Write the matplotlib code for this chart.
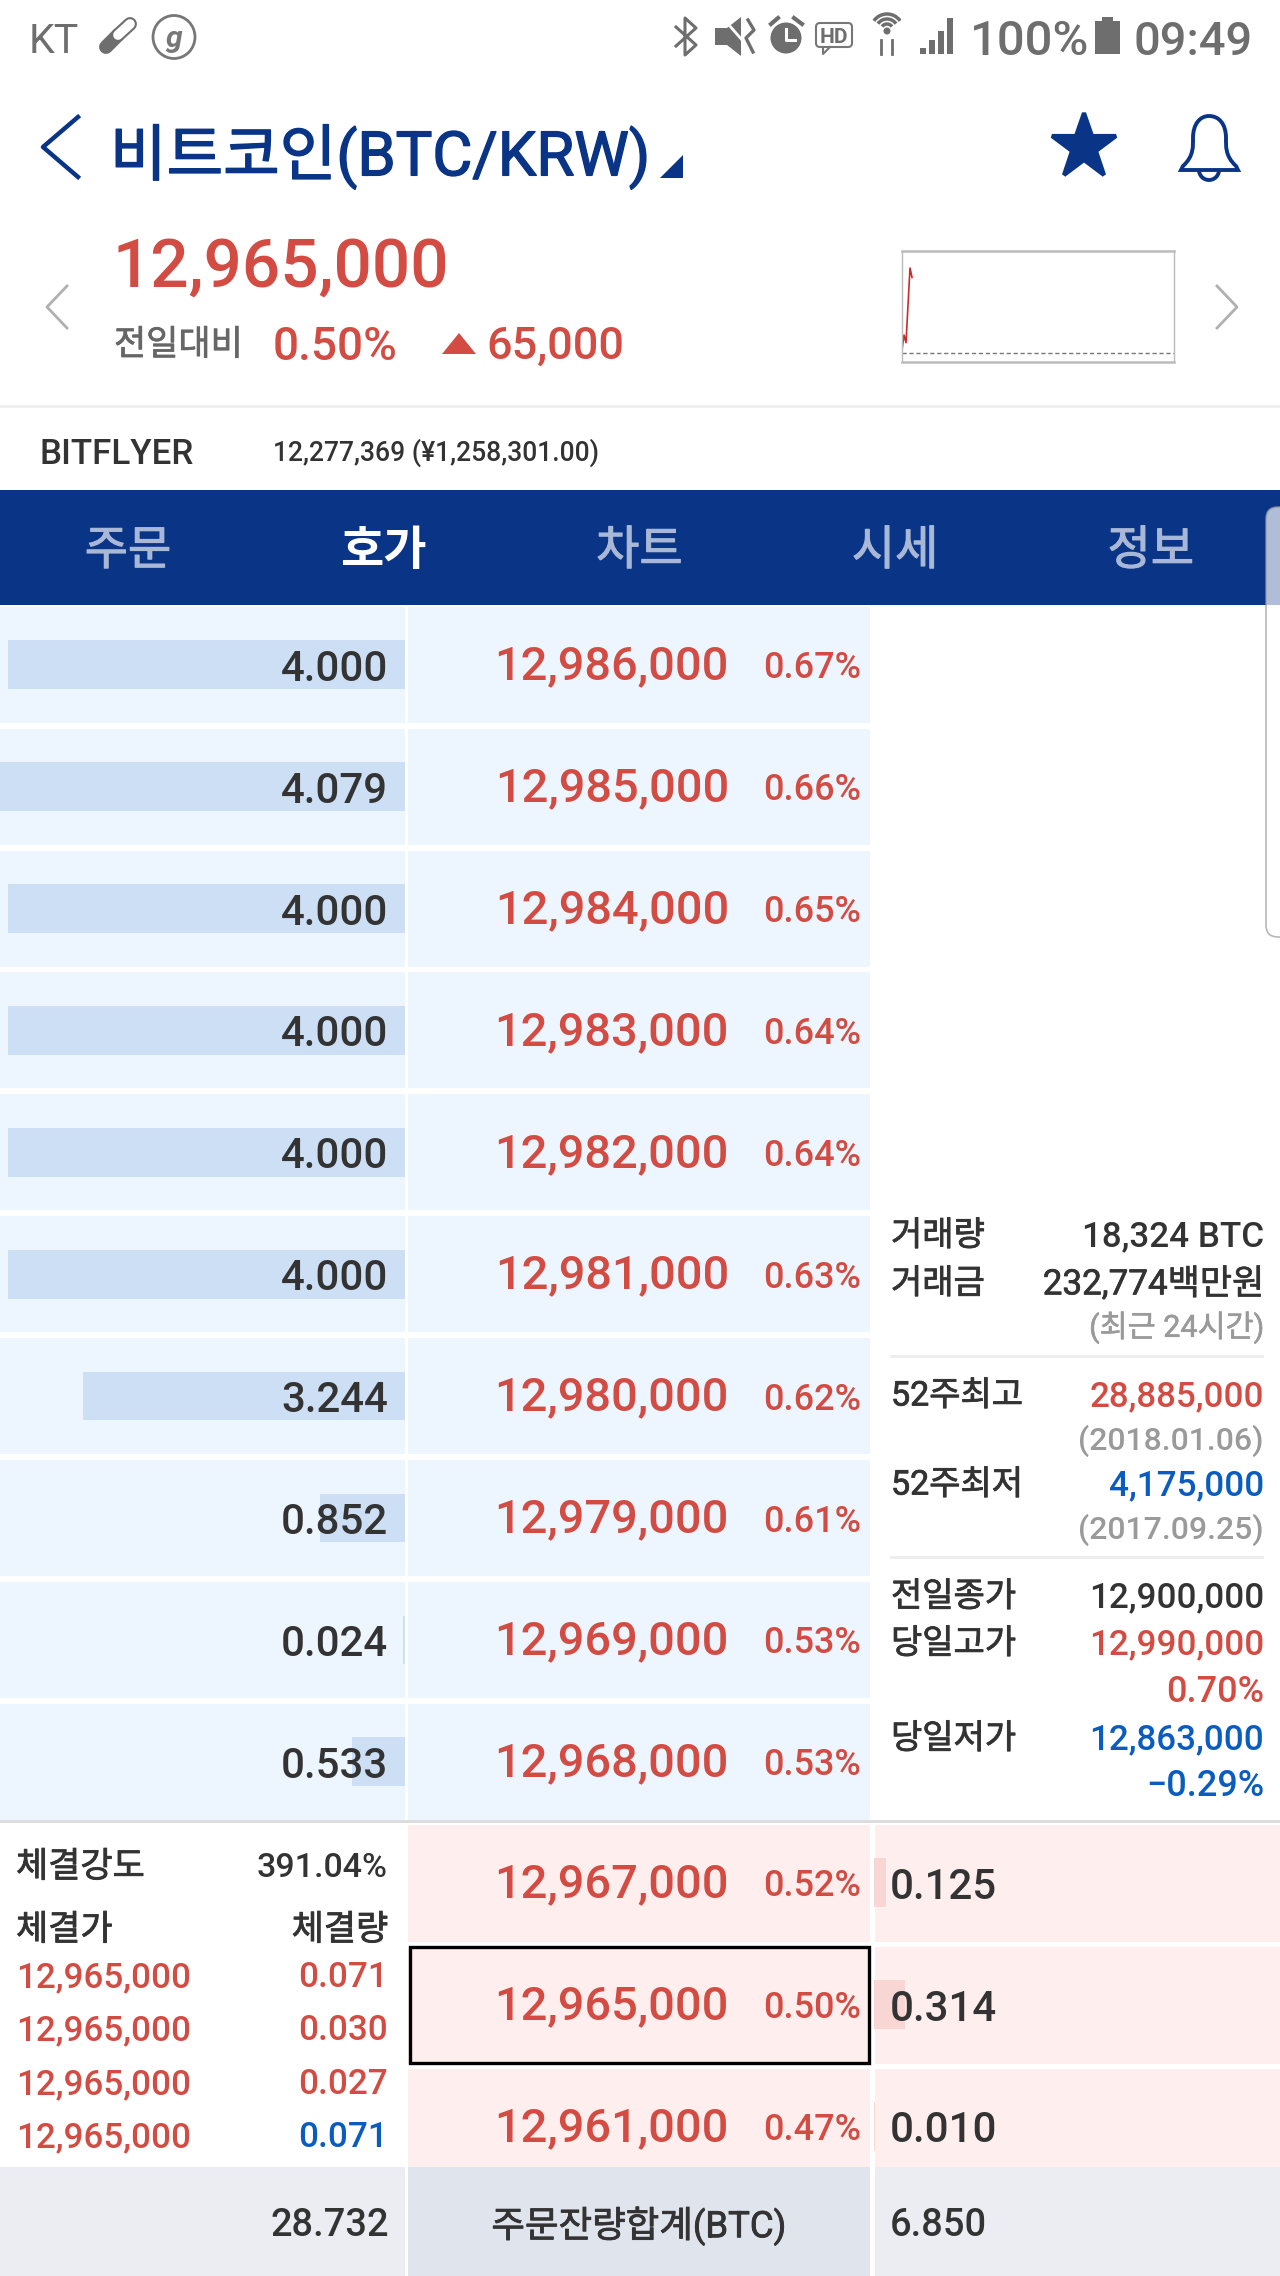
import matplotlib
matplotlib.use("Agg")
import matplotlib.pyplot as plt
import matplotlib.patheffects as pe
from matplotlib.patches import Rectangle, Polygon, Circle, Ellipse, Arc, FancyBboxPatch, PathPatch
from matplotlib.path import Path

# -----------------------------
# Data
# -----------------------------
ask_prices = [12986000, 12985000, 12984000, 12983000, 12982000,
              12981000, 12980000, 12979000, 12969000, 12968000]
ask_pcts = [0.67, 0.66, 0.65, 0.64, 0.64, 0.63, 0.62, 0.61, 0.53, 0.53]
ask_qtys = [4.000, 4.079, 4.000, 4.000, 4.000, 4.000, 3.244, 0.852, 0.024, 0.533]

bid_prices = [12967000, 12965000, 12961000]
bid_pcts = [0.52, 0.50, 0.47]
bid_qtys = [0.125, 0.314, 0.010]

trade_prices = [12965000, 12965000, 12965000, 12965000]
trade_qtys = [0.071, 0.030, 0.027, 0.071]
trade_sides = ["up", "up", "up", "down"]

tab_labels = ["주문", "호가", "차트", "시세", "정보"]
active_tab = "호가"

spark_x = [0, 2, 4, 8, 10]
spark_y = [12903000, 12919000, 12911000, 12990000, 12980000]
prev_close = 12900000

current_price = 12965000
ask_total = 28.732
bid_total = 6.850

# -----------------------------
# Style
# -----------------------------
plt.rcParams["font.family"] = ["Roboto", "Noto Sans CJK KR", "DejaVu Sans"]

NAVY = "#0a3587"
RED = "#d24c43"
BLUE = "#0b5cc0"
DARK = "#333333"
GREY = "#9a9a9a"
ICON = "#6e6e6e"
PX_PER_BTC = 99.2
W, H = 1280, 2276

fig = plt.figure(figsize=(W / 100, H / 100), dpi=100)


def px_axes(x0, y0, x1, y1, z):
    a = fig.add_axes([x0 / W, 1 - y1 / H, (x1 - x0) / W, (y1 - y0) / H], zorder=z)
    a.patch.set_alpha(0)
    a.axis("off")
    return a


bg = px_axes(0, 0, W, H, 0)
bg.set_xlim(0, W)
bg.set_ylim(H, 0)
top = px_axes(0, 0, W, H, 5)
top.set_xlim(0, W)
top.set_ylim(H, 0)


def box(x0, y0, x1, y1, color, ax=bg):
    ax.add_patch(Rectangle((x0, y0), x1 - x0, y1 - y0, facecolor=color, edgecolor="none"))


def txt(x, y, s, px, color=DARK, ha="left", weight="medium", stroke=0, **kw):
    # px is the font size in pixels, stroke thickens Korean text that only has regular/bold
    if stroke:
        weight = "normal"
    t = top.text(x, y, s, fontsize=px * 0.72, color=color, ha=ha, va="center_baseline",
                 fontweight=weight, **kw)
    if stroke:
        t.set_path_effects([pe.withStroke(linewidth=stroke, foreground=color)])


# -----------------------------
# Header
# -----------------------------
txt(29, 37, "KT", 41, ICON, weight="normal")
txt(970, 37, "100%", 49, ICON)
txt(1133, 37, "09:49", 47, ICON)
box(1095, 21, 1120, 54, ICON, ax=top)
box(1102, 17, 1113, 22, ICON, ax=top)

# status icons, rough shapes
top.plot([106, 118], [47, 35], color=ICON, lw=10, solid_capstyle="round")
top.plot([118, 130], [35, 24], color=ICON, lw=10, solid_capstyle="round")
top.plot([118, 130], [35, 24], color="white", lw=7, solid_capstyle="round")
top.add_patch(Ellipse((174, 37), 42, 43, fc="none", ec="#777777", lw=2))
txt(174, 36, "g", 30, "#777777", ha="center", weight="bold", style="italic")
top.plot([676, 696, 685, 685, 696, 676], [27, 45, 55, 18, 28, 46], color=ICON, lw=2.2)
top.add_patch(Polygon([(715, 28), (727, 28), (741, 17), (741, 56), (727, 45), (715, 45)], fc=ICON))
top.plot([722, 756], [17, 56], color="white", lw=2)
top.plot([748, 754, 746, 753], [20, 30, 38, 52], color=ICON, lw=2.4)
top.add_patch(Circle((786, 38), 15.5, fc=ICON))
top.plot([786, 786, 795], [29, 40, 40], color="white", lw=2.2)
top.plot([771, 778], [24, 18], color=ICON, lw=3)
top.plot([794, 802], [18, 24], color=ICON, lw=3)
top.add_patch(FancyBboxPatch((816, 23), 36, 24, boxstyle="round,pad=0,rounding_size=4", fc="white", ec="#777777", lw=1.5))
top.plot([823, 823, 830], [47, 54, 47], color="#777777", lw=1.5)
txt(834, 35, "HD", 21, ICON, ha="center", weight="bold")
for r in [16, 11, 6]:
    top.add_patch(Arc((887, 30), 2 * r, 2 * r, theta1=215, theta2=325, ec=ICON, lw=2.5))
top.add_patch(Circle((887, 31), 3.5, fc=ICON))
top.plot([881, 881], [40, 54], color=ICON, lw=2)
top.plot([892, 892], [40, 54], color=ICON, lw=2)
for i, ytop in enumerate([48, 40, 31, 18]):
    box(920 + i * 9, ytop, 926 + i * 9, 54, ICON, ax=top)

# title row
top.plot([78, 43, 78], [117, 147, 177], color=NAVY, lw=3.2)
txt(110, 150, "비트코인(BTC/KRW)", 61.5, NAVY, stroke=1)
top.add_patch(Polygon([(660, 178), (683, 178), (683, 155)], fc=NAVY))
top.plot(1084, 147, marker="*", ms=49, mfc=NAVY, mec=NAVY, mew=3)

bell = Path(
    [(1183, 166), (1194, 156), (1193, 146), (1193, 138), (1193, 124), (1200, 116), (1209, 116),
     (1219, 116), (1226, 124), (1226, 138), (1226, 146), (1225, 156), (1236, 166),
     (1238, 170), (1181, 170), (1183, 166)],
    [Path.MOVETO, Path.CURVE4, Path.CURVE4, Path.CURVE4, Path.CURVE4, Path.CURVE4, Path.CURVE4,
     Path.CURVE4, Path.CURVE4, Path.CURVE4, Path.CURVE4, Path.CURVE4, Path.CURVE4,
     Path.LINETO, Path.LINETO, Path.CLOSEPOLY])
top.add_patch(PathPatch(bell, fc="white", ec=NAVY, lw=2.8))
top.add_patch(Arc((1209, 170), 20, 20, theta1=0, theta2=180, ec=NAVY, lw=2.8))

# current price
txt(112, 262, f"{current_price:,}", 67.5, RED)
txt(114, 342, "전일대비", 35, "#666666", stroke=0.5)
txt(273, 342, "0.50%", 46, RED)
top.add_patch(Polygon([(442, 354), (476, 354), (459, 333)], fc=RED))
txt(486, 342, "65,000", 45, RED)
top.plot([67, 47, 67], [286, 307, 328], color="#b0b0b0", lw=2)
top.plot([1217, 1237, 1217], [286, 307, 328], color="#b0b0b0", lw=2)

# mini chart
spark = fig.add_axes([902 / W, 1 - 362 / H, 272 / W, 111 / H], zorder=3)
spark.plot(spark_x, spark_y, color="#cc2a2a", lw=1.2)
spark.axhline(prev_close, color="#777777", lw=1, ls=(0, (3, 2)))
spark.set_xlim(0, 272)
spark.set_ylim(12890500, 13008000)
spark.set_xticks([])
spark.set_yticks([])
for s in spark.spines.values():
    s.set_color("#bbbbbb")
    s.set_linewidth(1)
spark.spines["top"].set_linewidth(1.8)
spark.spines["bottom"].set_linewidth(1.8)

box(0, 405, W, 408, "#f0f0f0")
txt(40, 451, "BITFLYER", 35, DARK)
txt(273, 450, "12,277,369 (¥1,258,301.00)", 26.5, DARK)

# tabs
box(0, 490, W, 605, NAVY)
for i, label in enumerate(tab_labels):
    active = label == active_tab
    txt(128 + i * 255.7, 547, label, 47, "white" if active else "#a9b8d6", ha="center",
        weight="bold" if active else "medium", stroke=0 if active else 0.8)
top.add_patch(FancyBboxPatch((1266, 507), 40, 430, boxstyle="round,pad=0,rounding_size=12",
                             fc=(1, 1, 1, 0.68), ec=(0.6, 0.6, 0.6, 0.7), lw=1.2))

# -----------------------------
# Order book
# -----------------------------
ROW = 121.9
Y0 = 664.7

for i in range(len(ask_prices)):
    yc = Y0 + i * ROW
    box(0, yc - 58, 405, yc + 58, "#edf5ff")
    box(408, yc - 58, 870, yc + 58, "#edf5ff")
    txt(729, yc - 3, f"{ask_prices[i]:,}", 47, RED, ha="right")
    txt(861, yc, f"{ask_pcts[i]:.2f}%", 36, RED, ha="right")
    txt(388, yc, f"{ask_qtys[i]:.3f}", 42, DARK, ha="right")

ax_asks = px_axes(0, Y0 - ROW / 2, 405, Y0 + 9.5 * ROW, 2)
ax_asks.barh(range(len(ask_qtys)), ask_qtys, height=0.40, color="#cddff5")
ax_asks.set_xlim(405 / PX_PER_BTC, 0)
ax_asks.set_ylim(9.5, -0.5)

box(0, 1820, W, 1823, "#dddddd")

BID_Y0 = 1882.5
BID_ROW = 122
for i in range(len(bid_prices)):
    yc = BID_Y0 + i * BID_ROW
    y1 = min(yc + 59, 2167)
    box(408, yc - 58, 870, y1, "#ffeeee")
    box(875, yc - 58, W, y1, "#ffeeee")
    txt(729, yc - 3, f"{bid_prices[i]:,}", 47, RED, ha="right")
    txt(861, yc, f"{bid_pcts[i]:.2f}%", 36, RED, ha="right")
    txt(890, yc, f"{bid_qtys[i]:.3f}", 42, DARK)

ax_bids = px_axes(874, BID_Y0 - BID_ROW / 2, W, BID_Y0 + 2.5 * BID_ROW, 2)
ax_bids.barh(range(len(bid_qtys)), bid_qtys, height=0.40, color="#f7d6d4")
ax_bids.set_xlim(0, (W - 874) / PX_PER_BTC)
ax_bids.set_ylim(2.5, -0.5)

# current price box
top.add_patch(Rectangle((410, 1947), 459, 116, fc="none", ec="black", lw=2.4))

# trades panel
txt(16, 1864, "체결강도", 35, DARK, stroke=0.6)
txt(388, 1864, "391.04%", 34, DARK, ha="right")
txt(16, 1927, "체결가", 35, DARK, stroke=0.6)
txt(388, 1927, "체결량", 35, DARK, ha="right", stroke=0.6)
for i in range(len(trade_prices)):
    yc = 1974 + i * 53.4
    txt(16, yc, f"{trade_prices[i]:,}", 35, RED)
    txt(388, yc, f"{trade_qtys[i]:.3f}", 35, RED if trade_sides[i] == "up" else BLUE, ha="right")

# totals row
box(0, 2167, 405, H, "#ecedf3")
box(408, 2167, 870, H, "#e0e4ed")
box(875, 2167, W, H, "#ecedf3")
txt(389, 2222, f"{ask_total:.3f}", 38, DARK, ha="right")
txt(639, 2222, "주문잔량합계(BTC)", 36.5, DARK, ha="center", stroke=0.6)
txt(890, 2222, f"{bid_total:.3f}", 38, DARK)

# -----------------------------
# Info panel
# -----------------------------
RX = 1264
LX = 891
LABEL = 34
VALUE = 35
txt(LX, 1233, "거래량", LABEL, stroke=0.6)
txt(RX, 1233, "18,324 BTC", VALUE, DARK, ha="right")
txt(LX, 1281, "거래금", LABEL, stroke=0.6)
txt(RX, 1281, "232,774백만원", VALUE, DARK, ha="right", stroke=0.5)
txt(RX, 1324, "(최근 24시간)", 30.5, GREY, ha="right", stroke=0.4)
box(890, 1355, RX, 1358, "#eeeeee")
txt(LX, 1393, "52주최고", LABEL, stroke=0.6)
txt(RX, 1393, "28,885,000", VALUE, RED, ha="right")
txt(RX, 1437, "(2018.01.06)", 32, GREY, ha="right")
txt(LX, 1482, "52주최저", LABEL, stroke=0.6)
txt(RX, 1482, "4,175,000", VALUE, BLUE, ha="right")
txt(RX, 1526, "(2017.09.25)", 32, GREY, ha="right")
box(890, 1556, RX, 1559, "#eeeeee")
txt(LX, 1594, "전일종가", LABEL, stroke=0.6)
txt(RX, 1594, f"{prev_close:,}", VALUE, DARK, ha="right")
txt(LX, 1641, "당일고가", LABEL, stroke=0.6)
txt(RX, 1641, "12,990,000", VALUE, RED, ha="right")
txt(RX, 1688, "0.70%", 36, RED, ha="right")
txt(LX, 1736, "당일저가", LABEL, stroke=0.6)
txt(RX, 1736, "12,863,000", VALUE, BLUE, ha="right")
txt(RX, 1782, "−0.29%", 36, BLUE, ha="right")

plt.savefig("out.png", dpi=100)
plt.close()
